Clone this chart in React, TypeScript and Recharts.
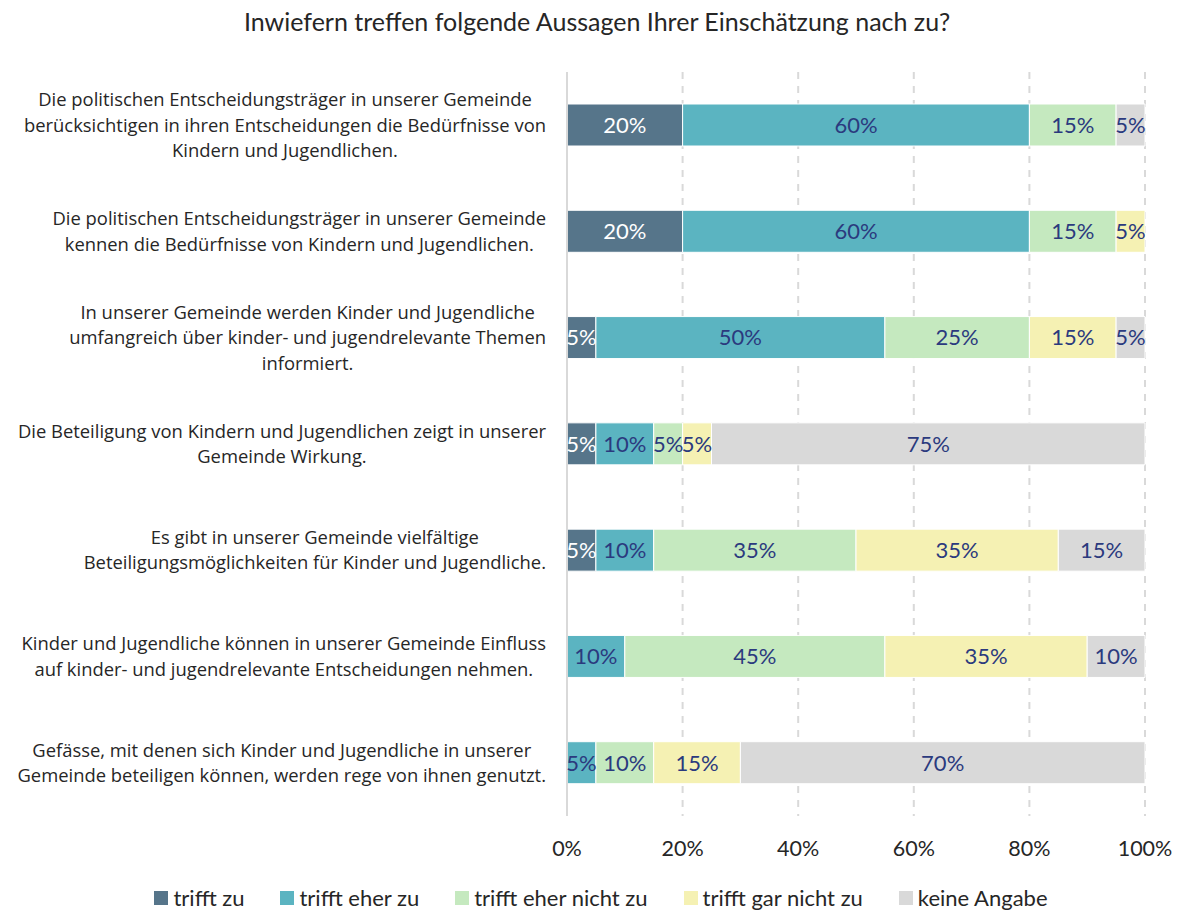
import { BarChart, Bar, XAxis, YAxis, CartesianGrid, LabelList } from 'recharts';

const title = 'Inwiefern treffen folgende Aussagen Ihrer Einschätzung nach zu?';

const statements: string[][] = [
  ['Die politischen Entscheidungsträger in unserer Gemeinde', 'berücksichtigen in ihren Entscheidungen die Bedürfnisse von', 'Kindern und Jugendlichen.'],
  ['Die politischen Entscheidungsträger in unserer Gemeinde', 'kennen die Bedürfnisse von Kindern und Jugendlichen.'],
  ['In unserer Gemeinde werden Kinder und Jugendliche', 'umfangreich über kinder- und jugendrelevante Themen', 'informiert.'],
  ['Die Beteiligung von Kindern und Jugendlichen zeigt in unserer', 'Gemeinde Wirkung.'],
  ['Es gibt in unserer Gemeinde vielfältige', 'Beteiligungsmöglichkeiten für Kinder und Jugendliche.'],
  ['Kinder und Jugendliche können in unserer Gemeinde Einfluss', 'auf kinder- und jugendrelevante Entscheidungen nehmen.'],
  ['Gefässe, mit denen sich Kinder und Jugendliche in unserer', 'Gemeinde beteiligen können, werden rege von ihnen genutzt.'],
];

const trifftZu = [20, 20, 5, 5, 5, 0, 0];
const eherZu = [60, 60, 50, 10, 10, 10, 5];
const eherNicht = [15, 15, 25, 5, 35, 45, 10];
const garNicht = [0, 5, 15, 5, 35, 35, 15];
const keineAngabe = [5, 0, 5, 75, 15, 10, 70];

const xTicks = [0, 20, 40, 60, 80, 100];

const series = [
  { key: 'a', name: 'trifft zu', color: '#56758a', label: '#ffffff', values: trifftZu },
  { key: 'b', name: 'trifft eher zu', color: '#5bb4c1', label: '#2b3a7e', values: eherZu },
  { key: 'c', name: 'trifft eher nicht zu', color: '#c5e9bf', label: '#2b3a7e', values: eherNicht },
  { key: 'd', name: 'trifft gar nicht zu', color: '#f5f1b3', label: '#2b3a7e', values: garNicht },
  { key: 'e', name: 'keine Angabe', color: '#d9d9d9', label: '#2b3a7e', values: keineAngabe },
];

const data = statements.map((lines, i) => {
  const row: Record<string, any> = { name: lines.join('\n') };
  series.forEach((s) => (row[s.key] = s.values[i]));
  return row;
});

const NARROW = 'Lato, sans-serif';
const LABEL_FONT = '"Open Sans", sans-serif';
const LABEL_SIZE = 18.4;

let ctx: CanvasRenderingContext2D | null = null;
function measure(text: string) {
  if (!ctx) ctx = document.createElement('canvas').getContext('2d');
  if (!ctx) return text.length * 9;
  ctx.font = `${LABEL_SIZE}px "Open Sans"`;
  return ctx.measureText(text).width;
}

function CategoryTick(props: any) {
  const { x, y, payload } = props;
  const lines: string[] = String(payload.value).split('\n');
  const maxW = Math.max(...lines.map(measure));
  const cx = x - 13 - maxW / 2;
  const lh = 25.5;
  const y0 = y - ((lines.length - 1) * lh) / 2;
  return (
    <text x={cx} y={y0} textAnchor="middle" fontSize={LABEL_SIZE} fill="#262626" fontFamily={LABEL_FONT}>
      {lines.map((l, i) => (
        <tspan key={i} x={cx} y={y0 + i * lh} dy="0.35em">
          {l}
        </tspan>
      ))}
    </text>
  );
}

export default function App() {
  return (
    <div style={{ position: 'fixed', top: 0, left: 0, width: 1179, height: 911, background: '#fff' }}>
      <div
        style={{
          position: 'absolute',
          top: 6,
          left: 0,
          width: 1194,
          textAlign: 'center',
          fontFamily: NARROW,
          fontSize: 25,
          color: '#262626',
        }}
      >
        {title}
      </div>
      <BarChart
        width={1179}
        height={880}
        data={data}
        layout="vertical"
        margin={{ top: 72, right: 34, left: 0, bottom: 0 }}
        barSize={42}
      >
        <CartesianGrid horizontal={false} stroke="#d9d9d9" strokeWidth={2} strokeDasharray="7 7" />
        <XAxis
          type="number"
          domain={[0, 100]}
          ticks={xTicks}
          tickFormatter={(v: number) => `${v}%`}
          axisLine={false}
          tickLine={false}
          height={64}
          tick={{ fontSize: 21.5, fill: '#262626', fontFamily: NARROW }}
          tickMargin={19}
        />
        <YAxis
          type="category"
          dataKey="name"
          width={567}
          axisLine={{ stroke: '#d9d9d9', strokeWidth: 2 }}
          tickLine={false}
          tick={<CategoryTick />}
          interval={0}
        />
        {series.map((s) => (
          <Bar key={s.key} dataKey={s.key} name={s.name} stackId="s" fill={s.color} stroke="#ffffff" strokeWidth={1} isAnimationActive={false}>
            <LabelList
              dataKey={s.key}
              position="center"
              formatter={(v: any) => (v ? `${v}%` : '')}
              fill={s.label}
              fontSize={22}
              fontFamily={NARROW}
            />
          </Bar>
        ))}
      </BarChart>
      <div
        style={{
          position: 'absolute',
          top: 885,
          left: 0,
          width: 1179,
          boxSizing: 'border-box',
          paddingLeft: 23,
          display: 'flex',
          justifyContent: 'center',
          gap: 36,
          fontFamily: NARROW,
          fontSize: 22,
          lineHeight: '26px',
          color: '#262626',
        }}
      >
        {series.map((s) => (
          <div key={s.key} style={{ display: 'flex', alignItems: 'center' }}>
            <span style={{ width: 14, height: 14, background: s.color, display: 'inline-block', marginRight: 5 }} />
            {s.name}
          </div>
        ))}
      </div>
    </div>
  );
}
